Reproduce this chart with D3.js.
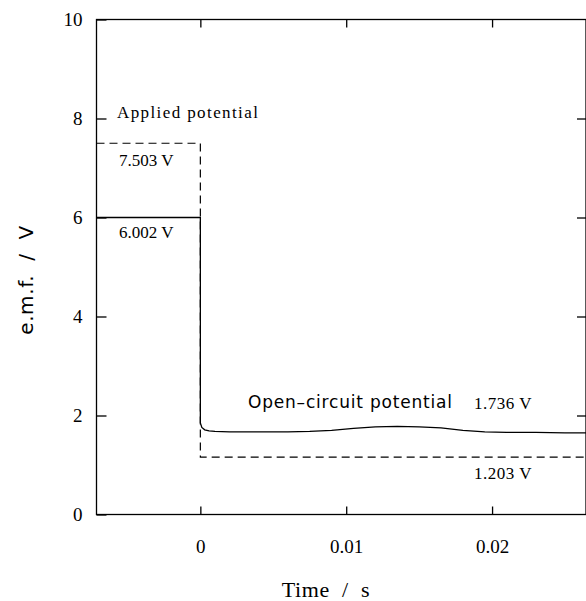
<!DOCTYPE html>
<html><head><meta charset="utf-8">
<script src="https://cdn.jsdelivr.net/npm/d3@7"></script>
<style>body{margin:0;background:#fff}svg{display:block}</style>
</head><body>
<script>
const xTicks = [0, 0.01, 0.02];
const xTickLabels = ["0", "0.01", "0.02"];
const yTicks = [0, 2, 4, 6, 8, 10];
const xDomain = [-0.00712, 0.02644];
const yDomain = [0, 10];

const appliedT = [-0.00712, 0, 0, 0.02644];
const appliedV = [7.50, 7.50, 1.16, 1.16];

const ocT = [-0.00712, 0, 0, 0.0001, 0.0003, 0.0006, 0.001, 0.002, 0.004, 0.006, 0.0075, 0.009, 0.0105, 0.012, 0.0135, 0.015, 0.0165, 0.018, 0.0195, 0.021, 0.023, 0.025, 0.02644];
const ocV = [6.00, 6.00, 1.85, 1.76, 1.71, 1.69, 1.68, 1.67, 1.67, 1.67, 1.68, 1.70, 1.74, 1.77, 1.78, 1.77, 1.75, 1.70, 1.67, 1.66, 1.66, 1.65, 1.65];

const W = 586, H = 601;
const m = {left: 96.5, top: 19.5, right: 586, bottom: 514.5};
const x = d3.scaleLinear().domain(xDomain).range([m.left, m.right]);
const y = d3.scaleLinear().domain(yDomain).range([m.bottom, m.top]);

const svg = d3.select("body").append("svg").attr("width", W).attr("height", H);
const serif = "'Liberation Serif','Times New Roman',serif";
const sans = "'DejaVu Sans',sans-serif";

svg.append("rect").attr("x", m.left).attr("y", m.top)
  .attr("width", m.right - m.left).attr("height", m.bottom - m.top)
  .attr("fill", "none").attr("stroke", "#000").attr("stroke-width", 1.3);

const gBottom = svg.append("g").attr("transform", `translate(0,${m.bottom})`)
  .call(d3.axisBottom(x).tickValues(xTicks).tickSizeInner(-8).tickSizeOuter(0).tickPadding(25).tickFormat((d,i)=>xTickLabels[i]));
const gTop = svg.append("g").attr("transform", `translate(0,${m.top})`)
  .call(d3.axisTop(x).tickValues(xTicks).tickSizeInner(-8).tickSizeOuter(0).tickFormat(""));
const gLeft = svg.append("g").attr("transform", `translate(${m.left},0)`)
  .call(d3.axisLeft(y).tickValues(yTicks).tickSizeInner(-10).tickSizeOuter(0).tickPadding(14).tickFormat(d3.format("d")));
const gRight = svg.append("g").attr("transform", `translate(${m.right},0)`)
  .call(d3.axisRight(y).tickValues(yTicks.filter(d=>d>0&&d<10)).tickSizeInner(-9).tickSizeOuter(0).tickFormat(""));
[gBottom, gTop, gLeft, gRight].forEach(g => {
  g.select(".domain").remove();
  g.selectAll(".tick line").attr("stroke", "#000").attr("stroke-width", 1.3);
  g.selectAll(".tick text").attr("font-family", serif).attr("font-size", 19).attr("fill", "#000");
});

const line = d3.line().x(d => x(d[0])).y(d => y(d[1]));
svg.append("path").datum(appliedT.map((t,i)=>[t, appliedV[i]]))
  .attr("d", line).attr("fill", "none").attr("stroke", "#000")
  .attr("stroke-width", 1.2).attr("stroke-dasharray", "8,5");
svg.append("path").datum(ocT.map((t,i)=>[t, ocV[i]]))
  .attr("d", line).attr("fill", "none").attr("stroke", "#000")
  .attr("stroke-width", 1.3);

function txt(s, px, py, font, size, anchor, ls) {
  svg.append("text").attr("x", px).attr("y", py).attr("font-family", font)
    .attr("font-size", size).attr("text-anchor", anchor || "start")
    .attr("letter-spacing", ls || 0).style("white-space", "pre").attr("fill", "#000").text(s);
}
txt("Applied potential", 117, 118, serif, 17, "start", 1.4);
txt("7.503 V", 119, 166, serif, 17, "start", 0);
txt("6.002 V", 119, 238, serif, 17, "start", 0);
txt("Open\u2013circuit potential", 248, 408, sans, 17, "start", 0.8);
txt("1.736 V", 474, 409, serif, 17, "start", 0.5);
txt("1.203 V", 474, 479, serif, 17, "start", 0.5);
txt("Time  /  s", 326, 597, serif, 22, "middle", 0.6);
svg.append("text").attr("transform", "translate(33,280) rotate(-90)")
  .attr("font-family", sans).attr("font-size", 20).attr("text-anchor", "middle")
  .style("white-space", "pre")
  .attr("letter-spacing", 0.6).attr("fill", "#000").text("e.m.f.  /  V");
</script>
</body></html>
